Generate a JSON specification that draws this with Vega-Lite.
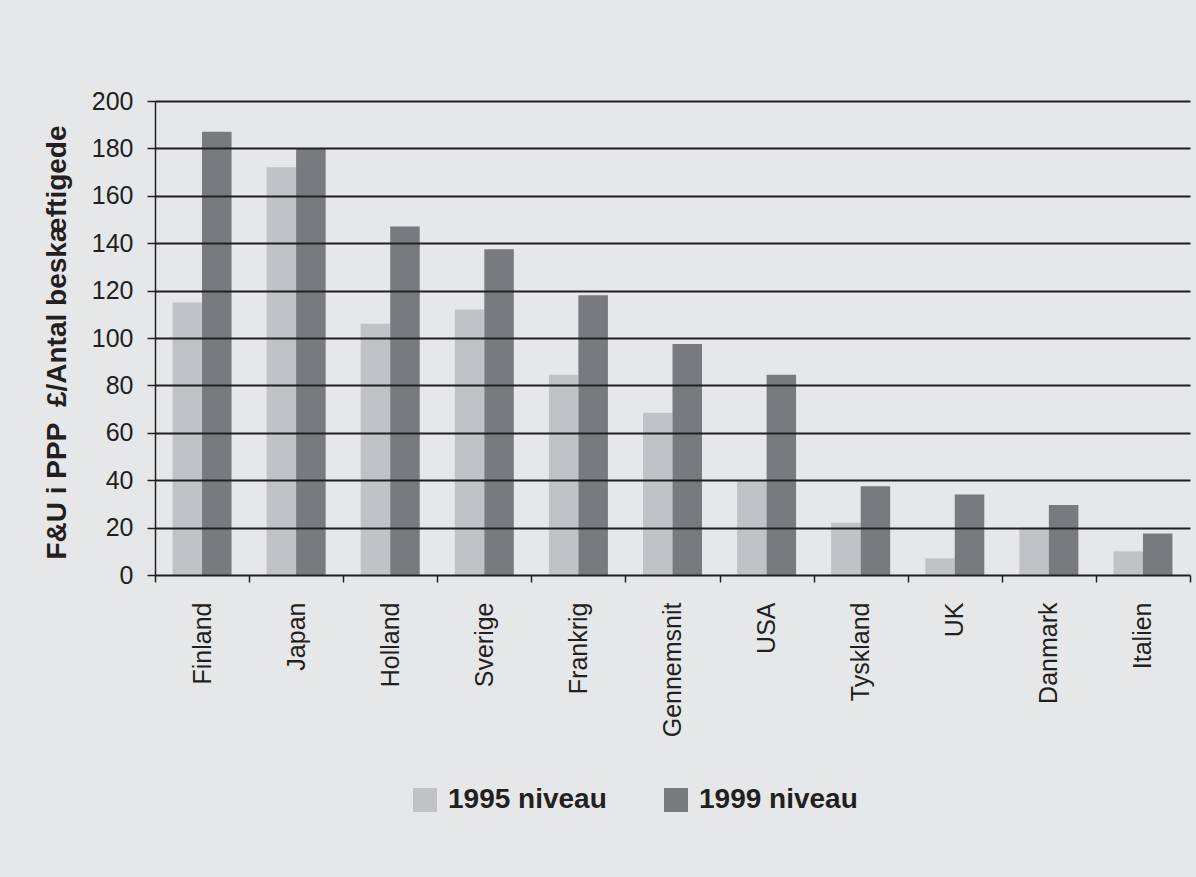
{
  "$schema": "https://vega.github.io/schema/vega-lite/v6.json",
  "autosize": "none",
  "padding": {"left": 155, "top": 101, "right": 0, "bottom": 302},
  "width": 1041,
  "height": 474,
  "background": "#e6e7e8",
  "config": {
    "view": {"stroke": null},
    "font": "Liberation Sans"
  },
  "data": {
    "values": [
      {"land": "Finland", "serie": "1995 niveau", "vaerdi": 115},
      {"land": "Finland", "serie": "1999 niveau", "vaerdi": 187},
      {"land": "Japan", "serie": "1995 niveau", "vaerdi": 172},
      {"land": "Japan", "serie": "1999 niveau", "vaerdi": 180},
      {"land": "Holland", "serie": "1995 niveau", "vaerdi": 106},
      {"land": "Holland", "serie": "1999 niveau", "vaerdi": 147},
      {"land": "Sverige", "serie": "1995 niveau", "vaerdi": 112},
      {"land": "Sverige", "serie": "1999 niveau", "vaerdi": 137.5},
      {"land": "Frankrig", "serie": "1995 niveau", "vaerdi": 84.5},
      {"land": "Frankrig", "serie": "1999 niveau", "vaerdi": 118},
      {"land": "Gennemsnit", "serie": "1995 niveau", "vaerdi": 68.5},
      {"land": "Gennemsnit", "serie": "1999 niveau", "vaerdi": 97.5},
      {"land": "USA", "serie": "1995 niveau", "vaerdi": 40},
      {"land": "USA", "serie": "1999 niveau", "vaerdi": 84.5},
      {"land": "Tyskland", "serie": "1995 niveau", "vaerdi": 22},
      {"land": "Tyskland", "serie": "1999 niveau", "vaerdi": 37.5},
      {"land": "UK", "serie": "1995 niveau", "vaerdi": 7},
      {"land": "UK", "serie": "1999 niveau", "vaerdi": 34},
      {"land": "Danmark", "serie": "1995 niveau", "vaerdi": 20},
      {"land": "Danmark", "serie": "1999 niveau", "vaerdi": 29.5},
      {"land": "Italien", "serie": "1995 niveau", "vaerdi": 10},
      {"land": "Italien", "serie": "1999 niveau", "vaerdi": 17.5}
    ]
  },
  "mark": {"type": "bar"},
  "encoding": {
    "x": {
      "field": "land",
      "type": "nominal",
      "sort": null,
      "scale": {"range": [0, 1035], "paddingInner": 0, "paddingOuter": 0},
      "axis": {
        "title": null,
        "domain": false,
        "tickBand": "extent",
        "ticks": true,
        "tickSize": 7,
        "tickWidth": 1.5,
        "tickColor": "#231f20",
        "labelAngle": -90,
        "labelAlign": "right",
        "labelBaseline": "middle",
        "labelPadding": 20,
        "labelFont": "Liberation Sans",
        "labelFontSize": 25,
        "labelColor": "#231f20",
        "grid": false
      }
    },
    "xOffset": {
      "field": "serie",
      "type": "nominal",
      "scale": {"paddingInner": 0, "paddingOuter": 0.595}
    },
    "y": {
      "field": "vaerdi",
      "type": "quantitative",
      "scale": {"domain": [0, 200], "nice": false},
      "axis": {
        "title": "F&U i PPP\u00a0\u00a0£/Antal beskæftigede",
        "titleFont": "Liberation Sans",
        "titleFontWeight": "bold",
        "titleFontSize": 28,
        "titleColor": "#231f20",
        "titleAngle": 270,
        "titleAlign": "center",
        "titleBaseline": "alphabetic",
        "titleX": -90,
        "titleY": 241,
        "values": [0, 20, 40, 60, 80, 100, 120, 140, 160, 180, 200],
        "grid": true,
        "gridColor": "#231f20",
        "gridWidth": 1.8,
        "gridOpacity": 1,
        "domain": true,
        "domainColor": "#231f20",
        "domainWidth": 1.5,
        "ticks": true,
        "tickSize": 8,
        "tickWidth": 1.5,
        "tickColor": "#231f20",
        "labelFont": "Liberation Sans",
        "labelFontSize": 25,
        "labelColor": "#231f20",
        "labelPadding": 14,
        "zindex": 1
      }
    },
    "color": {
      "field": "serie",
      "type": "nominal",
      "scale": {"domain": ["1995 niveau", "1999 niveau"], "range": ["#c1c2c5", "#797a7e"]},
      "legend": {
        "title": null,
        "orient": "none",
        "legendX": 256,
        "legendY": 685,
        "direction": "horizontal",
        "padding": 0,
        "symbolType": "square",
        "symbolSize": 576,
        "symbolStrokeWidth": 0,
        "symbolOpacity": 1,
        "labelFont": "Liberation Sans",
        "labelFontWeight": "bold",
        "labelFontSize": 28,
        "labelColor": "#231f20",
        "labelOffset": 9,
        "columnPadding": 55,
        "labelLimit": 400
      }
    }
  }
}
